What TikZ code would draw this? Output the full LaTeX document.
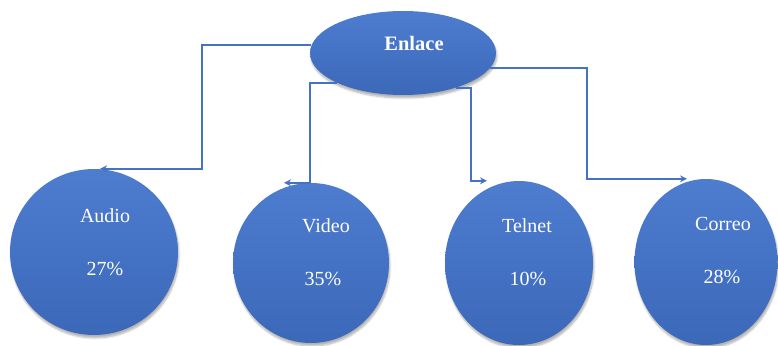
\documentclass[tikz,border=0pt]{standalone}
\usepackage{fontspec}
\setmainfont{Liberation Serif}
\usetikzlibrary{shapes.geometric,arrows.meta,calc,shadows.blur}
\definecolor{mainblue}{RGB}{68,114,196}
\definecolor{lightblue}{RGB}{78,124,206}
\definecolor{darkblue}{RGB}{60,104,184}
\definecolor{lineblue}{RGB}{70,114,196}
\tikzset{
  ball/.style={ellipse, inner sep=0pt, top color=lightblue, bottom color=darkblue, middle color=mainblue, draw=none,
    blur shadow={shadow xshift=1pt, shadow yshift=-3pt, shadow opacity=30, shadow blur steps=6}},
  lbl/.style={anchor=base, text=white, font=\fontsize{20}{23}\selectfont},
  conn/.style={draw=lineblue, line width=2.1pt, -{Stealth[length=7pt,width=7pt]}}
}
\begin{document}
\begin{tikzpicture}[x=1pt,y=-1pt]
\useasboundingbox (0,0) rectangle (778,345);
\node[ball, minimum width=186pt, minimum height=84pt] (enl) at (403,53) {};
\node[ball, minimum width=168pt, minimum height=166pt] (aud) at (94,252) {};
\node[ball, minimum width=156pt, minimum height=160pt] (vid) at (311,263) {};
\node[ball, minimum width=148pt, minimum height=164pt] (tel) at (519,263) {};
\node[ball, minimum width=143pt, minimum height=166pt] (cor) at (706,262) {};

\node[lbl, font=\bfseries\fontsize{20.5}{23}\selectfont] (enlt) at (414,50) {Enlace};
\node[lbl] (audt) at (105,222) {Audio};
\node[lbl] (audp) at (105,275) {27\%};
\node[lbl] (vidt) at (326,232) {Video};
\node[lbl] (vidp) at (323,285) {35\%};
\node[lbl] (telt) at (527,232) {Telnet};
\node[lbl] (telp) at (528,285) {10\%};
\node[lbl] (cort) at (723,230) {Correo};
\node[lbl] (corp) at (722,283) {28\%};

\draw[conn] (enl.175) -| ($(aud.north)+(108,0)$) -- ($(aud.north)+(6,0)$);
\draw[conn] (enl.204) -| ($(vid.north)+(-1,0)$) -- ($(vid.north)+(-27,0)$);
\draw[conn] (enl.327) -| ($(tel.north)+(-48,0)$) -- ($(tel.north)+(-32,0)$);
\draw[conn] (enl.350) -| ($(cor.north)+(-119,0)$) -- ($(cor.north)+(-19,0)$);
\end{tikzpicture}
\end{document}
